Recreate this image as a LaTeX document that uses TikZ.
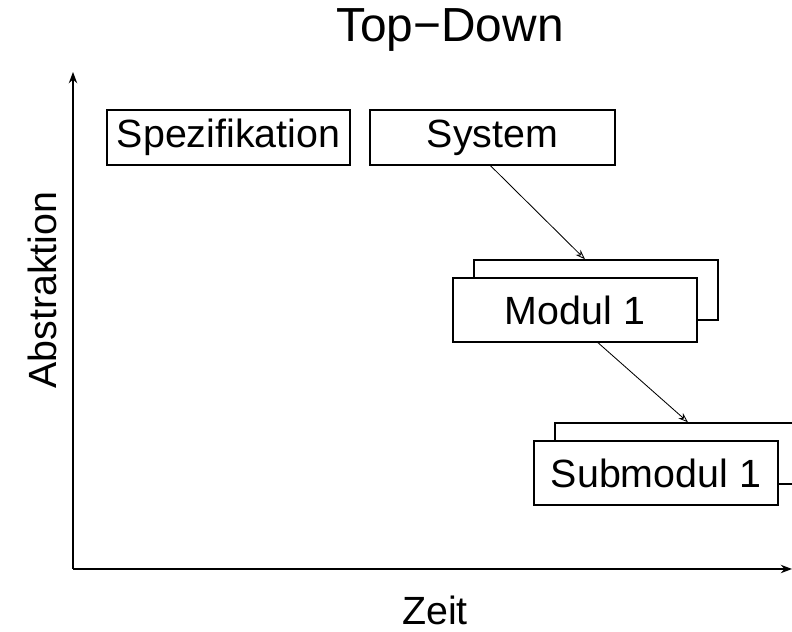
\documentclass[tikz,border=0pt]{standalone}
\usepackage{fontspec}
\setmainfont{Liberation Sans}
\usetikzlibrary{arrows.meta,calc}

\tikzset{
	block/.style={draw, line width=1pt, fill=white, minimum width=6.1cm, minimum height=1.55cm, inner sep=0pt, font=\fontsize{28}{32}\selectfont},
	axis/.style={line width=1pt, -{Stealth[length=8pt,width=6pt]}},
	flow/.style={line width=0.6pt, -{Stealth[length=7pt,width=5pt,open]}}
}

\begin{document}
\begin{tikzpicture}[x=0.025cm, y=0.025cm]
		\useasboundingbox (0, 0) rectangle (792, 632);
		\clip (0, 0) rectangle (792, 632);

		% title
		\node (title) at (450, 602) {\fontsize{34}{40}\selectfont Top\textminus Down};

		% axes
		\coordinate (origin) at (73, 63);
		\coordinate (ytop) at (73, 560);
		\coordinate (xend) at (792, 63);
		\draw[axis] (origin) -- (ytop);
		\draw[axis] (origin) -- (xend);
		\node[rotate=90, font=\fontsize{28}{32}\selectfont] (abstr) at (42, 342) {Abstraktion};
		\node[font=\fontsize{28}{32}\selectfont] (zeit) at (435, 22) {Zeit};

		% top level
		\node[block, minimum width=6.075cm, minimum height=1.375cm] (spez) at (228.5, 494.5) {Spezifikation};
		\node[block, minimum width=6.125cm, minimum height=1.375cm] (system) at (492.5, 494.5) {System};

		% module, stacked
		\node[block, minimum height=1.5cm] (modback) at (596, 342) {};
		\node[block, minimum height=1.6cm] (modul) at (575, 322) {Modul 1};

		% submodule, stacked
		\node[block, minimum height=1.525cm] (subback) at (677, 178.5) {};
		\node[block, minimum height=1.6cm] (submodul) at (656, 159) {Submodul 1};

		\draw[flow] ($(system.south)+(-2, 0)$) -- ($(modback.north)+(-11, 0)$);
		\draw[flow] ($(modul.south)+(23, 0)$) -- ($(subback.north)+(11, 0)$);
	\end{tikzpicture}
\end{document}
